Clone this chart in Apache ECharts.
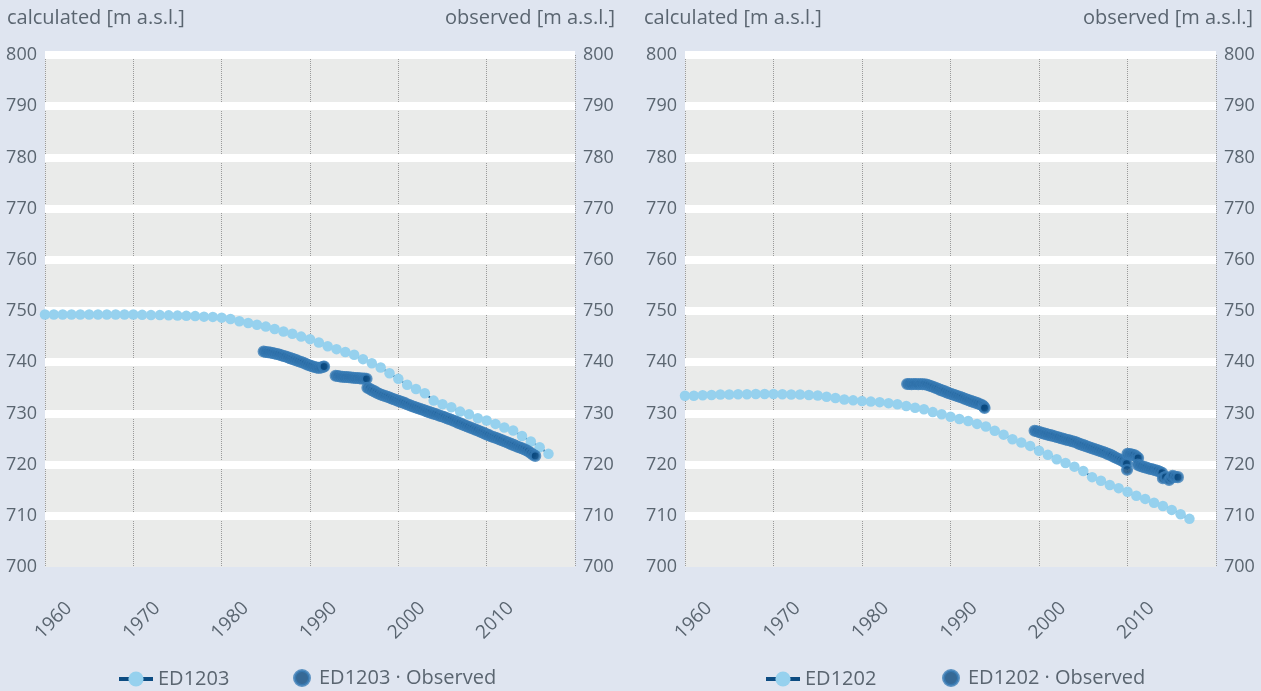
<!DOCTYPE html>
<html>
<head>
<meta charset="utf-8">
<title>ED1203 / ED1202 groundwater levels</title>
<script src="https://cdn.jsdelivr.net/npm/echarts@6/dist/echarts.min.js"></script>
<style>
  html, body { margin: 0; padding: 0; background: #dfe5f0; }
  #chart { width: 1261px; height: 691px; }
</style>
</head>
<body>
<div id="chart"></div>
<script>
// Model years for the calculated heads (one value per year)
const years = [
  1960, 1961, 1962, 1963, 1964, 1965, 1966, 1967, 1968, 1969,
  1970, 1971, 1972, 1973, 1974, 1975, 1976, 1977, 1978, 1979,
  1980, 1981, 1982, 1983, 1984, 1985, 1986, 1987, 1988, 1989,
  1990, 1991, 1992, 1993, 1994, 1995, 1996, 1997, 1998, 1999,
  2000, 2001, 2002, 2003, 2004, 2005, 2006, 2007, 2008, 2009,
  2010, 2011, 2012, 2013, 2014, 2015, 2016, 2017
];

// Calculated heads [m a.s.l.]
const ed1203Calculated = [
  749.3, 749.3, 749.3, 749.3, 749.3, 749.3, 749.3, 749.3, 749.3, 749.3,
  749.3, 749.25, 749.2, 749.2, 749.15, 749.1, 749.05, 749.0, 748.9, 748.85,
  748.7, 748.45, 748.0, 747.65, 747.3, 746.95, 746.5, 746.0, 745.55, 745.0,
  744.5, 743.85, 743.1, 742.55, 742.0, 741.45, 740.6, 739.8, 738.95, 737.85,
  736.75, 735.6, 734.75, 733.95, 732.5, 731.8, 731.2, 730.35, 729.85, 729.05,
  728.6, 727.95, 727.25, 726.65, 725.6, 724.5, 723.4, 722.1
];
const ed1202Calculated = [
  733.45, 733.45, 733.55, 733.6, 733.7, 733.7, 733.75, 733.75, 733.8, 733.8,
  733.8, 733.75, 733.7, 733.7, 733.6, 733.5, 733.25, 733.0, 732.7, 732.55,
  732.4, 732.3, 732.2, 732.0, 731.8, 731.45, 731.1, 730.8, 730.25, 729.85,
  729.35, 728.9, 728.5, 727.95, 727.45, 726.6, 725.85, 724.95, 724.3, 723.65,
  722.7, 721.9, 721.05, 720.3, 719.6, 718.75, 717.55, 716.85, 716.0, 715.4,
  714.7, 713.9, 713.3, 712.55, 711.9, 711.15, 710.3, 709.4
];

// Observed heads [decimal year, m a.s.l.]
const ed1203Observed = [
  [1984.75, 742.1], [1985.0, 742.0], [1985.25, 741.95], [1985.5, 741.9], [1985.75, 741.8],
  [1986.0, 741.7], [1986.25, 741.6], [1986.5, 741.5], [1986.75, 741.35], [1987.0, 741.2],
  [1987.25, 741.1], [1987.5, 740.95], [1987.75, 740.8], [1988.0, 740.65], [1988.25, 740.5],
  [1988.5, 740.35], [1988.75, 740.2], [1989.0, 740.05], [1989.25, 739.9], [1989.5, 739.7],
  [1989.75, 739.5], [1990.0, 739.35], [1990.25, 739.2], [1990.5, 739.05], [1990.75, 738.95],
  [1991.0, 738.9], [1991.25, 738.95], [1991.5, 739.1], [1991.6, 739.15],

  [1992.9, 737.35], [1993.15, 737.3], [1993.4, 737.2], [1993.65, 737.15], [1993.9, 737.1],
  [1994.15, 737.1], [1994.4, 737.05], [1994.65, 737.0], [1994.9, 736.95], [1995.15, 736.9],
  [1995.4, 736.9], [1995.65, 736.85], [1995.9, 736.8], [1996.15, 736.8], [1996.4, 736.75],

  [1996.5, 735.0], [1996.75, 734.8], [1997.0, 734.55], [1997.25, 734.35], [1997.5, 734.1],
  [1997.75, 733.9], [1998.0, 733.7], [1998.25, 733.55], [1998.5, 733.4], [1998.75, 733.25],
  [1999.0, 733.1], [1999.25, 732.9], [1999.5, 732.75], [1999.75, 732.6], [2000.0, 732.45],
  [2000.25, 732.3], [2000.5, 732.15], [2000.75, 732.0], [2001.0, 731.8], [2001.25, 731.65],
  [2001.5, 731.45], [2001.75, 731.3], [2002.0, 731.15], [2002.25, 731.0], [2002.5, 730.85],
  [2002.75, 730.7], [2003.0, 730.55], [2003.25, 730.4], [2003.5, 730.25], [2003.75, 730.1],
  [2004.0, 729.95], [2004.25, 729.85], [2004.5, 729.7], [2004.75, 729.5], [2005.0, 729.4],
  [2005.25, 729.25], [2005.5, 729.05], [2005.75, 728.9], [2006.0, 728.75], [2006.25, 728.55],
  [2006.5, 728.4], [2006.75, 728.2], [2007.0, 728.05], [2007.25, 727.85], [2007.5, 727.7],
  [2007.75, 727.5], [2008.0, 727.35], [2008.25, 727.15], [2008.5, 727.0], [2008.75, 726.8],
  [2009.0, 726.65], [2009.25, 726.45], [2009.5, 726.3], [2009.75, 726.1], [2010.0, 725.9],
  [2010.25, 725.75], [2010.5, 725.55], [2010.75, 725.4], [2011.0, 725.25], [2011.25, 725.1],
  [2011.5, 724.9], [2011.75, 724.75], [2012.0, 724.55], [2012.25, 724.4], [2012.5, 724.2],
  [2012.75, 724.05], [2013.0, 723.85], [2013.25, 723.7], [2013.5, 723.5], [2013.75, 723.35],
  [2014.0, 723.2], [2014.25, 723.0], [2014.5, 722.8], [2014.75, 722.55], [2015.0, 722.25],
  [2015.25, 721.95], [2015.5, 721.7]
];
const ed1202Observed = [
  [1985.1, 735.75], [1985.35, 735.75], [1985.6, 735.7], [1985.85, 735.75], [1986.1, 735.75],
  [1986.35, 735.7], [1986.6, 735.75], [1986.85, 735.7], [1987.1, 735.7], [1987.35, 735.6],
  [1987.6, 735.45], [1987.85, 735.3], [1988.1, 735.15], [1988.35, 734.95], [1988.6, 734.8],
  [1988.85, 734.6], [1989.1, 734.45], [1989.35, 734.3], [1989.6, 734.1], [1989.85, 733.95],
  [1990.1, 733.8], [1990.35, 733.65], [1990.6, 733.5], [1990.85, 733.35], [1991.1, 733.2],
  [1991.35, 733.05], [1991.6, 732.85], [1991.85, 732.7], [1992.1, 732.55], [1992.35, 732.4],
  [1992.6, 732.25], [1992.85, 732.1], [1993.1, 731.95], [1993.35, 731.8], [1993.6, 731.6],
  [1993.75, 731.35], [1993.85, 731.05],

  [1999.5, 726.6], [1999.75, 726.5], [2000.0, 726.35], [2000.25, 726.25], [2000.5, 726.1],
  [2000.75, 726.0], [2001.0, 725.85], [2001.25, 725.75], [2001.5, 725.65], [2001.75, 725.55],
  [2002.0, 725.4], [2002.25, 725.3], [2002.5, 725.15], [2002.75, 725.05], [2003.0, 724.9],
  [2003.25, 724.8], [2003.5, 724.7], [2003.75, 724.55], [2004.0, 724.45], [2004.25, 724.3],
  [2004.5, 724.1], [2004.75, 723.95], [2005.0, 723.8], [2005.25, 723.65], [2005.5, 723.5],
  [2005.75, 723.35], [2006.0, 723.2], [2006.25, 723.05], [2006.5, 722.9], [2006.75, 722.75],
  [2007.0, 722.6], [2007.25, 722.45], [2007.5, 722.3], [2007.75, 722.1], [2008.0, 721.95],
  [2008.25, 721.75], [2008.5, 721.5], [2008.75, 721.3], [2009.0, 721.1], [2009.25, 720.9],
  [2009.5, 720.65], [2009.75, 720.4], [2009.9, 720.2], [2009.95, 719.0],

  [2010.0, 722.1], [2010.25, 722.05], [2010.5, 721.95], [2010.75, 721.85], [2011.0, 721.6],
  [2011.2, 721.3],
  [2011.15, 720.0], [2011.4, 719.8], [2011.65, 719.65], [2011.9, 719.5], [2012.15, 719.4],
  [2012.4, 719.25], [2012.65, 719.15], [2012.9, 719.05], [2013.15, 718.9], [2013.4, 718.8],
  [2013.65, 718.6], [2013.9, 718.4], [2014.0, 717.35], [2014.3, 717.6], [2014.7, 717.0],
  [2014.9, 717.4], [2015.1, 717.8], [2015.4, 717.6], [2015.7, 717.55]
];

// Axis ranges
const xRange = { min: 1960, max: 2020, interval: 10 };
const yRange = { min: 700, max: 800, interval: 10 };

const TEXT = '#5a6570';
const FONT = "'Open Sans', sans-serif";
const CALC_FILL = '#96d1ee';
const CALC_LINE = '#0d4c82';
const OBS_FILL = '#0b4a80';
const OBS_RING = '#3a7db6';

const panels = [
  { well: 'ED1203', calc: ed1203Calculated, obs: ed1203Observed,
    grid: { left: 45, top: 55, width: 530, height: 512 },
    lineLegendLeft: 117, obsLegendLeft: 293, titleLeft: 7, titleRight: 646 },
  { well: 'ED1202', calc: ed1202Calculated, obs: ed1202Observed,
    grid: { left: 685, top: 55, width: 531, height: 512 },
    lineLegendLeft: 764, obsLegendLeft: 942, titleLeft: 644, titleRight: 8 }
];

const labelText = { color: TEXT, fontFamily: FONT, fontSize: 18 };
const legendText = { color: TEXT, fontFamily: FONT, fontSize: 20 };

const option = {
  animation: false,
  backgroundColor: '#dfe5f0',
  title: [],
  legend: [],
  grid: [],
  xAxis: [],
  yAxis: [],
  series: []
};

panels.forEach((p, i) => {
  option.grid.push(Object.assign({ show: true, backgroundColor: '#eaebea', borderWidth: 0 }, p.grid));

  option.title.push(
    { text: 'calculated [m a.s.l.]', left: p.titleLeft, top: 8, padding: 0,
      textStyle: { color: TEXT, fontFamily: FONT, fontSize: 20, fontWeight: 'normal' } },
    { text: 'observed [m a.s.l.]', right: p.titleRight, top: 8, padding: 0,
      textStyle: { color: TEXT, fontFamily: FONT, fontSize: 20, fontWeight: 'normal' } }
  );

  option.xAxis.push({
    type: 'value', gridIndex: i, z: 0,
    min: xRange.min, max: xRange.max, interval: xRange.interval,
    axisLine: { show: false }, axisTick: { show: false },
    splitLine: { show: true, lineStyle: { color: '#9a9a9a', type: 'dotted', width: 1 } },
    axisLabel: Object.assign({}, labelText, {
      fontSize: 19,
      rotate: 45, align: 'center', verticalAlign: 'middle',
      padding: [0, 0, 0, 24], margin: 62, showMaxLabel: false,
      formatter: v => String(v)
    })
  });

  option.yAxis.push({
    type: 'value', gridIndex: i, position: 'left', z: 1,
    min: yRange.min, max: yRange.max, interval: yRange.interval,
    axisLine: { show: false }, axisTick: { show: false },
    splitLine: { show: true, showMinLine: false, lineStyle: { color: '#ffffff', width: 8 } },
    axisLabel: Object.assign({ margin: 8 }, labelText)
  }, {
    type: 'value', gridIndex: i, position: 'right', z: 1,
    min: yRange.min, max: yRange.max, interval: yRange.interval,
    axisLine: { show: false }, axisTick: { show: false },
    splitLine: { show: false },
    axisLabel: Object.assign({ margin: 8 }, labelText)
  });

  option.series.push({
    type: 'line', name: p.well,
    xAxisIndex: i, yAxisIndex: i * 2,
    data: years.map((y, k) => [y, p.calc[k]]),
    symbol: 'circle', symbolSize: 10.5, showSymbol: true, showAllSymbol: true,
    clip: false, z: 2,
    itemStyle: { color: CALC_FILL },
    lineStyle: { color: CALC_LINE, width: 2 },
    emphasis: { disabled: true }
  }, {
    type: 'scatter', name: p.well + ' · Observed',
    xAxisIndex: i, yAxisIndex: i * 2,
    data: p.obs,
    symbol: 'circle', symbolSize: 9.5, z: 3,
    itemStyle: { color: OBS_FILL, borderColor: OBS_RING, borderWidth: 2.6 },
    emphasis: { disabled: true }
  });

  // line-with-marker key
  option.legend.push({
    left: p.lineLegendLeft, top: 669, padding: 0,
    itemWidth: 34, itemHeight: 19,
    data: [p.well],
    lineStyle: { width: 4 },
    selectedMode: false,
    textStyle: legendText
  });
  // observed-point key
  option.legend.push({
    left: p.obsLegendLeft, top: 668, padding: 0,
    itemWidth: 24, itemHeight: 15,
    data: [p.well + ' · Observed'],
    itemStyle: { borderWidth: 3 },
    selectedMode: false,
    textStyle: legendText
  });
});

const chart = echarts.init(document.getElementById('chart'), null, { renderer: 'canvas' });
chart.setOption(option);
</script>
</body>
</html>
